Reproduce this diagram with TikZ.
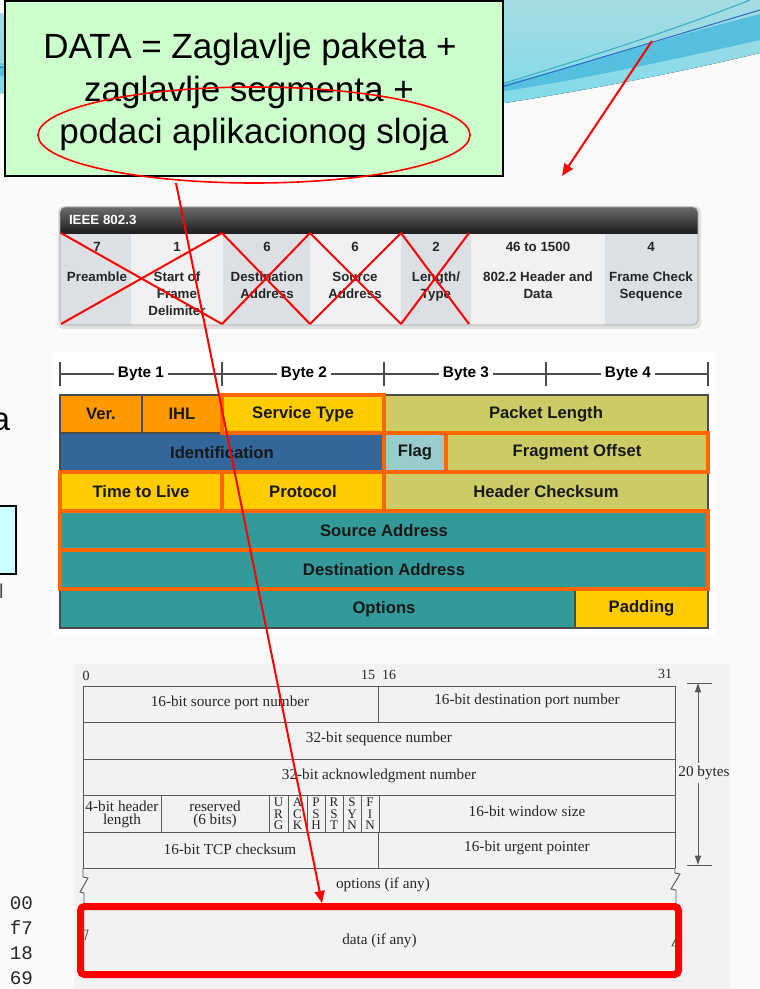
\documentclass[tikz,border=0pt]{standalone}
\usepackage{fontspec}
\setmainfont{Liberation Sans}
\newfontfamily\scanserif{Liberation Serif}
\newfontfamily\hexmono{Liberation Mono}
\usetikzlibrary{arrows.meta,shapes.geometric}

\definecolor{pagebg}{HTML}{FAFAFA}
\definecolor{calloutgreen}{HTML}{CCFFCC}
\definecolor{swooshtop}{HTML}{A6DCE2}
\definecolor{swooshbot}{HTML}{80DAEA}
\definecolor{swooshband}{HTML}{55C0DD}
\definecolor{swooshteal}{HTML}{3AB0C2}
\definecolor{swooshblue}{HTML}{2F6FC8}
\definecolor{ieeedark}{HTML}{DCDFE3}
\definecolor{ieeelight}{HTML}{EFF1F3}
\definecolor{ipOrange}{HTML}{FF9900}
\definecolor{ipYellow}{HTML}{FFCC00}
\definecolor{ipOlive}{HTML}{CCCC66}
\definecolor{ipBlue}{HTML}{336699}
\definecolor{ipFlag}{HTML}{99CCCC}
\definecolor{ipTeal}{HTML}{339999}
\definecolor{hotorange}{HTML}{FF6600}
\definecolor{tcpbg}{HTML}{F2F2F2}
\definecolor{sidecyan}{HTML}{CCFFFF}

% one header field: style, x1, y1, x2, y2, name, label
\newcommand\fieldcell[7]{%
  \node[ipbox,#1,minimum width={(#4-#2)*0.75pt},minimum height={(#5-#3)*0.75pt}]
    (#6) at ({(#2+#4)/2},{(#3+#5)/2}) {#7};}

\begin{document}
\begin{tikzpicture}[x=0.75pt,y=-0.75pt,
  every node/.style={inner sep=0pt,outer sep=0pt},
  callouttext/.style={font=\fontsize{26.25pt}{30pt}\selectfont,anchor=base},
  redline/.style={draw=red,line width=1.5pt},
  redarrow/.style={redline,-{Triangle[length=9pt,width=7.5pt]}},
  ieeenum/.style={font=\bfseries\fontsize{10}{12}\selectfont,text=black!85},
  ieeelabel/.style={font=\bfseries\fontsize{10}{12.75}\selectfont,text=black!85,align=center,anchor=north},
  bytelabel/.style={font=\bfseries\fontsize{11.5}{13}\selectfont,fill=white,inner xsep=3pt},
  ipbox/.style={draw=black!70,line width=0.8pt,font=\bfseries\fontsize{12.5}{14}\selectfont,text=black!90},
  hotline/.style={draw=hotorange,line width=3pt},
  tcptext/.style={font=\scanserif\fontsize{11.4}{13}\selectfont,text=black!85},
  tcpline/.style={draw=black!65,line width=0.7pt},
  flagtext/.style={font=\scanserif\fontsize{9.8}{8.7}\selectfont,text=black!85,align=center},
  hextext/.style={font=\hexmono\fontsize{14.4}{16}\selectfont,text=black!85},
]
\useasboundingbox (0,0) rectangle (760,989);
\fill[pagebg] (0,0) rectangle (760,989);

% ---------- decorative swoosh along the top ----------
\fill[top color=swooshtop,bottom color=swooshbot]
  (0,14) -- (505,0) -- (760,0) -- (760,53)
  .. controls (690,70) and (600,88) .. (505,103) -- (0,93) -- cycle;
\fill[swooshband]
  (0,66) -- (505,84) .. controls (590,62) and (680,34) .. (760,14)
  -- (760,40) .. controls (680,58) and (590,78) .. (505,91) -- (0,76) -- cycle;
\draw[swooshteal,line width=0.8pt] (0,64) -- (505,83) .. controls (580,60) and (680,28) .. (750,0);
\draw[swooshblue,line width=0.8pt] (0,67) -- (505,86) .. controls (580,64) and (680,34) .. (760,10);

% ---------- left-hand fragments ----------
\node[font=\fontsize{24.5pt}{28pt}\selectfont,anchor=base east] (fraga) at (10,430) {a};
\draw[black,line width=1.5pt,fill=sidecyan] (-5,506) rectangle (16,574);
\node[font=\fontsize{15pt}{18pt}\selectfont,text=black!70,anchor=base west] (fragl) at (-1,598) {l};

% ---------- callout ----------
\node[draw=black,line width=1.5pt,fill=calloutgreen,minimum width=373.5pt,minimum height=131.25pt]
  (callout) at (254,88.5) {};
\node[callouttext] (line1) at (250,58) {DATA = Zaglavlje paketa +};
\node[callouttext] (line2) at (249,101) {zaglavlje segmenta +};
\node[callouttext] (line3) at (254,143) {podaci aplikacionog sloja};
\node[draw=red,line width=1.2pt,ellipse,minimum width=324pt,minimum height=72pt] (appdata) at (254,135) {};

% ---------- IEEE 802.3 frame ----------
\fill[black!12,rounded corners=4pt] (58,206) rectangle (701,329);
\begin{scope}
  \clip[rounded corners=4pt] (60,207) rectangle (698,325);
  \fill[ieeedark]  (60,233)  rectangle (131,325);
  \fill[ieeelight] (131,233) rectangle (223,325);
  \fill[ieeedark]  (223,233) rectangle (310,325);
  \fill[ieeelight] (310,233) rectangle (401,325);
  \fill[ieeedark]  (401,233) rectangle (471,325);
  \fill[ieeelight] (471,233) rectangle (605,325);
  \fill[ieeedark]  (605,233) rectangle (698,325);
  \shade[top color=black!58,bottom color=black!88] (60,207) rectangle (698,233);
\end{scope}
\draw[black!35,line width=0.5pt,rounded corners=4pt] (60,207) rectangle (698,325);
\node[font=\bfseries\fontsize{10}{12}\selectfont,text=white,anchor=west] (ieeetitle) at (69,220) {IEEE 802.3};

\node[ieeenum] (n1) at (97,247) {7};
\node[ieeenum] (n2) at (177,247) {1};
\node[ieeenum] (n3) at (267,247) {6};
\node[ieeenum] (n4) at (355,247) {6};
\node[ieeenum] (n5) at (436,247) {2};
\node[ieeenum] (n6) at (538,247) {46 to 1500};
\node[ieeenum] (n7) at (651,247) {4};
\node[ieeelabel] (f1) at (97,272) {Preamble};
\node[ieeelabel] (f2) at (177,272) {Start of\\Frame\\Delimiter};
\node[ieeelabel] (f3) at (267,272) {Destination\\Address};
\node[ieeelabel] (f4) at (355,272) {Source\\Address};
\node[ieeelabel] (f5) at (436,272) {Length/\\Type};
\node[ieeelabel] (f6) at (538,272) {802.2 Header and\\Data};
\node[ieeelabel] (f7) at (651,272) {Frame Check\\Sequence};

% crossed-out fields
\draw[redline] (61,233) -- (222,324);  \draw[redline] (61,324) -- (222,233);
\draw[redline] (222,233) -- (310,324); \draw[redline] (222,324) -- (310,233);
\draw[redline] (310,233) -- (401,324); \draw[redline] (310,324) -- (401,233);
\draw[redline] (401,233) -- (469,324); \draw[redline] (401,324) -- (469,233);

% ---------- IPv4 header ----------
\fill[white] (52,352) rectangle (716,636);
\draw[black!70,line width=0.8pt] (60,374) -- (708,374);
\foreach \tx in {60,222,384,546,708} \draw[black!70,line width=0.8pt] (\tx,362) -- (\tx,386);
\node[bytelabel] (b1) at (141,374) {Byte 1};
\node[bytelabel] (b2) at (304,374) {Byte 2};
\node[bytelabel] (b3) at (466,374) {Byte 3};
\node[bytelabel] (b4) at (628,374) {Byte 4};

\fieldcell{fill=ipOrange}{60}{395}{142}{433}{ver}{Ver.}
\fieldcell{fill=ipOrange}{142}{395}{222}{433}{ihl}{IHL}
\fieldcell{fill=ipYellow}{222}{395}{384}{433}{stype}{Service Type}
\fieldcell{fill=ipOlive}{384}{395}{708}{433}{plen}{Packet Length}
\fieldcell{fill=ipBlue}{60}{433}{384}{472}{ident}{Identification}
\fieldcell{fill=ipFlag}{384}{433}{446}{472}{flag}{Flag}
\fieldcell{fill=ipOlive}{446}{433}{708}{472}{fragoff}{Fragment Offset}
\fieldcell{fill=ipYellow}{60}{472}{222}{511}{ttl}{Time to Live}
\fieldcell{fill=ipYellow}{222}{472}{384}{511}{proto}{Protocol}
\fieldcell{fill=ipOlive}{384}{472}{708}{511}{hcs}{Header Checksum}
\fieldcell{fill=ipTeal}{60}{511}{708}{550}{srcaddr}{Source Address}
\fieldcell{fill=ipTeal}{60}{550}{708}{589}{dstaddr}{Destination Address}
\fieldcell{fill=ipTeal}{60}{589}{575}{628}{opts}{}
\fieldcell{fill=ipYellow}{575}{589}{708}{628}{pad}{Padding}
\node[font=\bfseries\fontsize{12.5}{14}\selectfont,text=black!90] (optlabel) at (384,609) {Options};
\foreach \n in {stype,flag,fragoff,ttl,proto,srcaddr,dstaddr}
  \draw[hotline] (\n.north west) rectangle (\n.south east);

% ---------- TCP header ----------
\fill[tcpbg] (74,664) rectangle (731,989);
\node[tcptext,font=\scanserif\fontsize{10.5}{12}\selectfont] (bit0) at (86,676) {0};
\node[tcptext,font=\scanserif\fontsize{10.5}{12}\selectfont] (bit15) at (368,675) {15};
\node[tcptext,font=\scanserif\fontsize{10.5}{12}\selectfont] (bit16) at (389,675) {16};
\node[tcptext,font=\scanserif\fontsize{10.5}{12}\selectfont] (bit31) at (665,674) {31};

\foreach \ty in {686,722,759,795,832,868} \draw[tcpline] (83,\ty) -- (675,\ty);
\draw[tcpline] (83,686) -- (83,868);
\draw[tcpline] (675,686) -- (675,868);
\draw[tcpline] (378,686) -- (378,722);
\draw[tcpline] (378,832) -- (378,868);
\foreach \tx in {161,269,288,307,325,343,361,379} \draw[tcpline] (\tx,795) -- (\tx,832);

\node[tcptext] (srcport) at (230,703) {16-bit source port number};
\node[tcptext] (dstport) at (527,701) {16-bit destination port number};
\node[tcptext] (seqno) at (379,739) {32-bit sequence number};
\node[tcptext] (ackno) at (379,776) {32-bit acknowledgment number};
\node[tcptext] (hlen1) at (122,806) {4-bit header};
\node[tcptext] (hlen2) at (122,821) {length};
\node[tcptext] (resv1) at (215,806) {reserved};
\node[tcptext] (resv2) at (215,821) {(6 bits)};
\node[flagtext] (furg) at (278.5,814) {U\\R\\G};
\node[flagtext] (fack) at (297.5,814) {A\\C\\K};
\node[flagtext] (fpsh) at (316,814) {P\\S\\H};
\node[flagtext] (frst) at (334,814) {R\\S\\T};
\node[flagtext] (fsyn) at (352,814) {S\\Y\\N};
\node[flagtext] (ffin) at (370,814) {F\\I\\N};
\node[tcptext] (winsize) at (527,811) {16-bit window size};
\node[tcptext] (tcpcks) at (230,849) {16-bit TCP checksum};
\node[tcptext] (urgptr) at (527,848) {16-bit urgent pointer};
\node[tcptext] (options) at (383,885) {options (if any)};

% break marks on the variable-length rows
\draw[tcpline] (83,868) -- (83,877) -- (88,878) -- (80,892) -- (84,893) -- (84,903);
\draw[tcpline] (675,868) -- (675,873) -- (680,874) -- (671,889) -- (676,890) -- (676,903);
\draw[tcpline] (83,930) -- (88,930) -- (85,940);
\draw[tcpline] (676,938) -- (672,946) -- (677,946);

% header length dimension
\coordinate (dimtop) at (698,683);
\coordinate (dimbot) at (698,865);
\draw[tcpline] (687,683) -- (712,683);
\draw[tcpline] (687,865) -- (712,865);
\draw[tcpline,{Triangle[length=7pt,width=4.5pt]}-{Triangle[length=7pt,width=4.5pt]}] (dimtop) -- (dimbot);
\node[tcptext,fill=tcpbg,inner ysep=2pt] (twenty) at (704,773) {20 bytes};

% highlighted payload
\node[draw=red,line width=5.25pt,rounded corners=3pt,minimum width=448.5pt,minimum height=51pt,tcptext]
  (databox) at (379.5,940.5) {data (if any)};

% hex dump fragment
\node[hextext] (hex1) at (21.5,903) {00};
\node[hextext] (hex2) at (21.5,928) {f7};
\node[hextext] (hex3) at (21.5,953) {18};
\node[hextext] (hex4) at (21.5,978) {69};

% ---------- red pointers ----------
\coordinate (swooshpt) at (652,41);
\coordinate (framept) at (562,176);
\draw[redarrow] (swooshpt) -- (framept);
\coordinate (ellstart) at (176,183);
\coordinate (datatop) at (322,903);
\draw[redarrow] (ellstart) -- (datatop);
\end{tikzpicture}
\end{document}
